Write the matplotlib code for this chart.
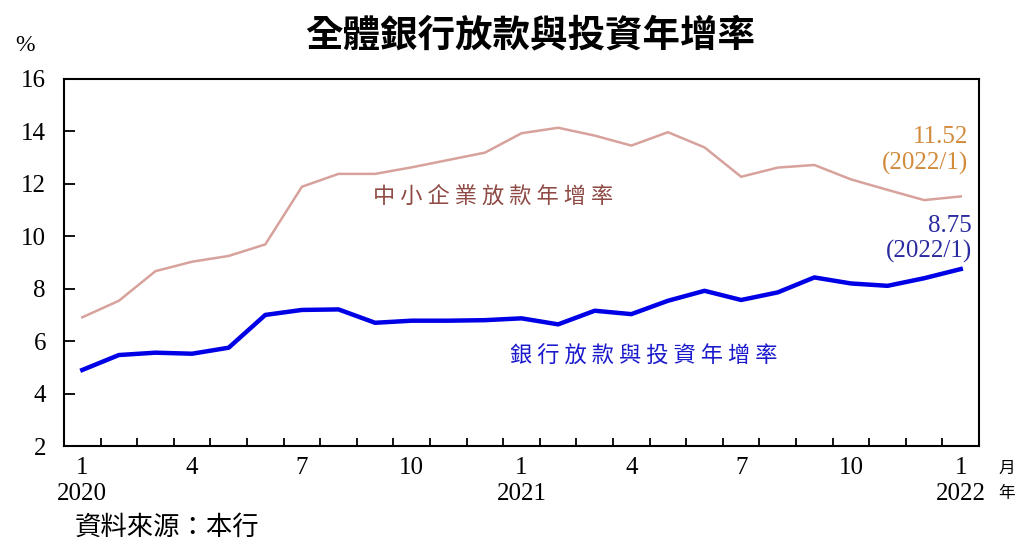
import matplotlib
matplotlib.use("Agg")
import matplotlib.pyplot as plt
from matplotlib.ticker import FixedLocator

months = list(range(25))  # 2020/1 .. 2022/1
x_labels = ["1\n2020", "4", "7", "10", "1\n2021", "4", "7", "10", "1\n2022"]
x_label_pos = [0, 3, 6, 9, 12, 15, 18, 21, 24]

sme = [6.91, 7.54, 8.67, 9.03, 9.25, 9.69, 11.89, 12.38, 12.38, 12.63, 12.91, 13.19,
       13.93, 14.14, 13.84, 13.46, 13.97, 13.39, 12.27, 12.62, 12.72, 12.17, 11.77, 11.38, 11.52]
bank = [4.90, 5.47, 5.56, 5.52, 5.75, 7.00, 7.19, 7.21, 6.70, 6.78, 6.78, 6.80,
        6.87, 6.64, 7.16, 7.03, 7.54, 7.92, 7.57, 7.86, 8.43, 8.20, 8.11, 8.40, 8.75]
y_ticks = [2, 4, 6, 8, 10, 12, 14, 16]

SERIF = ["Liberation Serif", "DejaVu Serif"]
CJK = ["Noto Sans CJK TC", "DejaVu Sans"]

fig = plt.figure(figsize=(10.22, 5.41), dpi=100)
ax = fig.add_axes([0.0626, 0.1756, 0.8954, 0.6784])

ax.plot(months, sme, color="#D7A29C", lw=1.8, solid_joinstyle="round")
ax.plot(months, bank, color="#0000E6", lw=3.2, solid_joinstyle="round")

ax.set_xlim(-0.5, 24.5)
ax.set_ylim(2, 16)
ax.set_yticks(y_ticks)
ax.set_yticklabels([str(v) for v in y_ticks], fontfamily=SERIF, fontsize=18)
ax.set_xticks(x_label_pos)
ax.set_xticklabels(x_labels, fontfamily=SERIF, fontsize=18, linespacing=1.25)
ax.xaxis.set_minor_locator(FixedLocator([m + 0.5 for m in months[:-1]]))
ax.tick_params(axis="x", which="major", length=0, pad=8)
ax.tick_params(axis="x", which="minor", direction="in", length=6, width=1.3)
ax.tick_params(axis="y", which="major", direction="in", length=8, width=1.3, pad=13)
ax.yaxis.get_major_ticks()[0].tick1line.set_visible(False)
ax.yaxis.get_major_ticks()[-1].tick1line.set_visible(False)
for s in ax.spines.values():
    s.set_linewidth(1.5)
    s.set_color("black")

fig.text(0.519, 0.935, "全體銀行放款與投資年增率", fontfamily=CJK, fontsize=27,
         fontweight="bold", ha="center", va="center")
fig.text(0.024, 0.915, "%", fontfamily=SERIF, fontsize=17, ha="center", va="center")
fig.text(0.985, 0.135, "月", fontfamily=CJK, fontsize=12, ha="center", va="center")
fig.text(0.985, 0.088, "年", fontfamily=CJK, fontsize=12, ha="center", va="center")
fig.text(0.073, 0.025, "資料來源：本行", fontfamily=CJK, fontsize=19, ha="left", va="center")

ax.text(11.23, 11.54, "中 小 企 業 放 款 年 增 率", fontfamily=CJK, fontsize=16,
        color="#8E4A44", ha="center", va="center")
ax.text(15.35, 5.43, "銀 行 放 款 與 投 資 年 增 率", fontfamily=CJK, fontsize=16,
        color="#1A1ACC", ha="center", va="center")
ax.text(24.2, 13.27, "11.52\n(2022/1)", fontfamily=SERIF, fontsize=18, color="#D28A3C",
        ha="right", va="center", linespacing=1.2, multialignment="right")
ax.text(24.3, 9.9, "8.75\n(2022/1)", fontfamily=SERIF, fontsize=18, color="#2B2BA0",
        ha="right", va="center", linespacing=1.2, multialignment="right")

fig.savefig("out.png", dpi=100)
